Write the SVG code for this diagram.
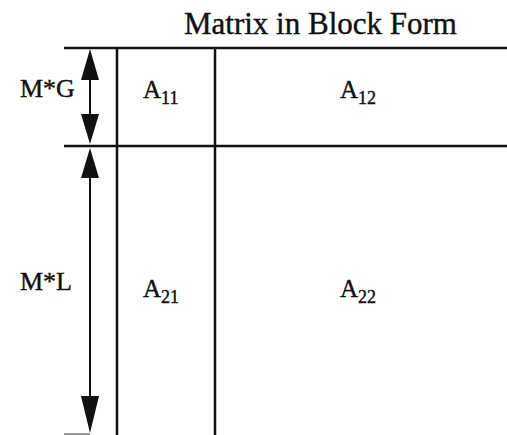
<svg xmlns="http://www.w3.org/2000/svg" width="507" height="435" viewBox="0 0 507 435">
<style>
.ln{stroke:#111;stroke-width:2.5;fill:none}
.sh{stroke:#111;stroke-width:2;fill:none}
.hd{fill:#111}
text{font-family:"Liberation Serif","Times New Roman",serif;fill:#111;stroke:#111;stroke-width:0.4}
.lb{font-size:26px}
.a{font-size:25px}
.s{font-size:18px}
</style>
<rect width="507" height="435" fill="#fff"/>
<text x="184" y="34" font-size="31">Matrix in Block Form</text>
<g id="grid">
<line class="ln" x1="64" y1="48" x2="507" y2="48"/>
<line class="ln" x1="64" y1="146" x2="507" y2="146"/>
<line x1="64" y1="434" x2="90" y2="434" stroke="#777" stroke-width="1.5"/>
<line class="ln" x1="117" y1="48" x2="117" y2="435"/>
<line class="ln" x1="215" y1="48" x2="215" y2="435"/>
</g>
<g id="connectors">
<line class="sh" x1="90" y1="60" x2="90" y2="135"/>
<polygon class="hd" points="90,49 81,80 99,80"/>
<polygon class="hd" points="90,144 81,114 99,114"/>
<line class="sh" x1="90" y1="160" x2="90" y2="420"/>
<polygon class="hd" points="90,148 81,178 99,178"/>
<polygon class="hd" points="90,433 81,396 99,396"/>
</g>
<g id="label-mg"><text class="lb" x="20" y="97">M*G</text></g>
<g id="label-ml"><text class="lb" x="20" y="290">M*L</text></g>
<g id="A11"><text class="a" x="143" y="98">A<tspan class="s" dy="6">11</tspan></text></g>
<g id="A12"><text class="a" x="340" y="98">A<tspan class="s" dy="6">12</tspan></text></g>
<g id="A21"><text class="a" x="143" y="297">A<tspan class="s" dy="6">21</tspan></text></g>
<g id="A22"><text class="a" x="340" y="297">A<tspan class="s" dy="6">22</tspan></text></g>
</svg>
